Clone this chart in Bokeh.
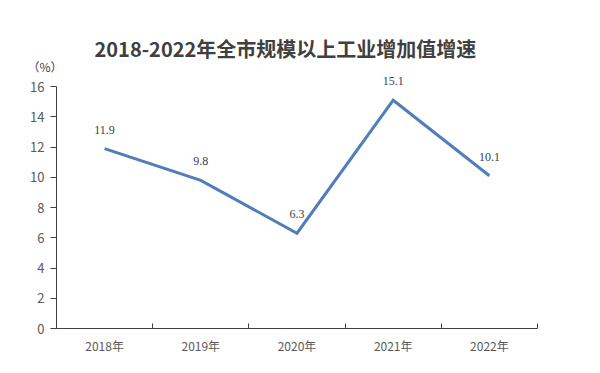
from bokeh.plotting import figure
from bokeh.models import Range1d, FixedTicker, LabelSet, ColumnDataSource, Title
from bokeh.embed import file_html
from bokeh.resources import INLINE

years = ["2018年", "2019年", "2020年", "2021年", "2022年"]
growth = [11.9, 9.8, 6.3, 15.1, 10.1]
y_ticks = [0, 2, 4, 6, 8, 10, 12, 14, 16]
title_text = "2018-2022年全市规模以上工业增加值增速"
unit_text = "（%）"

FONT = "Noto Sans CJK SC"
xs = [i + 0.5 for i in range(len(years))]
src = ColumnDataSource(dict(x=xs, y=growth, lab=[f"{v:.1f}" for v in growth]))

p = figure(width=600, height=373, output_backend="svg", toolbar_location=None,
           x_range=Range1d(0, len(years)), y_range=Range1d(0, 16.8),
           min_border_left=56, min_border_right=63, min_border_top=74,
           min_border_bottom=45)
p.outline_line_color = None
p.grid.grid_line_color = None
p.background_fill_color = "white"
p.border_fill_color = "white"

unit = Title(text=unit_text, align="left", offset=-29, standoff=0,
             text_font=FONT, text_font_size="12px", text_font_style="normal",
             text_color="#404040")
p.add_layout(unit, "above")
main = Title(text=title_text, align="left", offset=38, standoff=-14,
             text_font=FONT, text_font_size="20px", text_font_style="bold",
             text_color="#404040")
p.add_layout(main, "above")

xa = p.xaxis[0]
xa.ticker = FixedTicker(ticks=xs, minor_ticks=list(range(len(years) + 1)))
xa.major_label_overrides = {x: lab for x, lab in zip(xs, years)}
xa.major_tick_line_color = None
xa.minor_tick_in = 5
xa.minor_tick_out = 0
xa.minor_tick_line_color = "#404040"
xa.axis_line_color = "#404040"
xa.major_label_text_font = FONT
xa.major_label_text_font_size = "12px"
xa.major_label_text_color = "#595959"
xa.major_label_standoff = 2

ya = p.yaxis[0]
ya.ticker = FixedTicker(ticks=y_ticks)
ya.bounds = (0, 16)
ya.major_tick_in = 0
ya.major_tick_out = 6
ya.minor_tick_line_color = None
ya.major_tick_line_color = "#404040"
ya.axis_line_color = "#404040"
ya.major_label_text_font = FONT
ya.major_label_text_font_size = "13px"
ya.major_label_text_color = "#595959"
ya.major_label_standoff = 6

p.line("x", "y", source=src, line_color="#4F7EBB", line_width=3, line_join="miter")
p.add_layout(LabelSet(x="x", y="y", text="lab", source=src, text_align="center",
                      text_baseline="middle", y_offset=19, text_font=FONT,
                      text_font_size="12px", text_color="#404040"))

open("out.html", "w").write(file_html(p, INLINE))
